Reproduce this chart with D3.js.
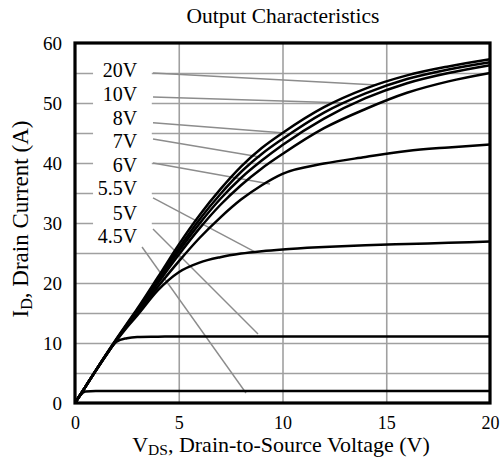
<!DOCTYPE html>
<html>
<head>
<meta charset="utf-8">
<script src="https://cdn.jsdelivr.net/npm/d3@7"></script>
<style>
  body { margin: 0; background: #fff; }
  svg text { font-family: "Liberation Serif", "DejaVu Serif", serif; fill: #000; }
</style>
</head>
<body>
<div id="chart"></div>
<script>
// Output characteristics (ID vs VDS) for several gate voltages
var svgWidth = 500;
var svgHeight = 457;

var margin = { top: 43, right: 10, bottom: 54, left: 75 };
var width = svgWidth - margin.left - margin.right;
var height = svgHeight - margin.top - margin.bottom;

// Data
var xTicks = [0, 5, 10, 15, 20];
var yTicks = [0, 10, 20, 30, 40, 50, 60];
var yGrid = [5, 10, 15, 20, 25, 30, 35, 40, 45, 50, 55];
var xGrid = [5, 10, 15];

var vds = [0, 0.5, 1, 1.5, 2, 2.5, 3, 4, 5, 6, 7, 8, 9, 10, 12, 14, 16, 18, 20];
var id20 = [0, 2.7, 5.4, 8.1, 10.7, 13.2, 15.7, 21.0, 26.4, 31.3, 35.6, 39.4, 42.5, 45.0, 49.3, 52.4, 54.6, 56.1, 57.3];
var id10 = [0, 2.7, 5.4, 8.1, 10.6, 13.1, 15.5, 20.7, 25.8, 30.6, 34.8, 38.5, 41.5, 44.0, 48.4, 51.6, 54.0, 55.6, 56.8];
var id8 = [0, 2.7, 5.4, 8.0, 10.6, 13.0, 15.4, 20.4, 25.3, 29.9, 34.0, 37.5, 40.4, 43.0, 47.4, 50.8, 53.3, 55.0, 56.3];
var id7 = [0, 2.7, 5.4, 8.0, 10.5, 12.9, 15.2, 20.0, 24.7, 29.1, 33.0, 36.3, 39.1, 41.5, 45.8, 49.0, 51.7, 53.6, 55.0];
var id6 = [0, 2.7, 5.4, 8.0, 10.5, 12.8, 15.0, 19.4, 23.6, 27.5, 30.9, 33.9, 36.3, 38.2, 39.9, 41.0, 42.0, 42.6, 43.1];
var id55 = [0, 2.7, 5.4, 8.0, 10.4, 12.6, 14.6, 18.8, 21.8, 23.4, 24.3, 24.9, 25.3, 25.6, 26.0, 26.3, 26.5, 26.7, 26.9];
var id5 = [0, 2.7, 5.4, 8.0, 10.2, 10.8, 11.0, 11.05, 11.1, 11.1, 11.1, 11.1, 11.1, 11.1, 11.1, 11.1, 11.1, 11.1, 11.1];
var id45 = [0, 1.9, 2.0, 2.0, 2.0, 2.0, 2.0, 2.0, 2.0, 2.0, 2.0, 2.0, 2.0, 2.0, 2.0, 2.0, 2.0, 2.0, 2.0];

var seriesNames = ["20V", "10V", "8V", "7V", "6V", "5.5V", "5V", "4.5V"];
var seriesValues = [id20, id10, id8, id7, id6, id55, id5, id45];

// label leader lines: [vds, id] start and end, in data units
var leaderStart = [[3.76, 55.0], [3.76, 51.0], [3.76, 46.7], [3.76, 44.0], [3.76, 40.0], [3.76, 34.2], [3.76, 29.0], [3.23, 26.0]];
var leaderEnd = [[14.55, 53.0], [13.1, 50.0], [10.1, 45.0], [8.92, 41.0], [9.4, 36.5], [8.67, 25.2], [8.82, 11.5], [8.24, 1.67]];
// label text anchor (end) and baseline, in data units
var labelPos = [[3.0, 54.4], [3.0, 50.4], [3.0, 46.3], [3.0, 42.5], [3.0, 38.5], [3.0, 34.6], [3.0, 30.5], [3.0, 26.6]];

var svg = d3.select("#chart")
  .append("svg")
  .attr("width", svgWidth)
  .attr("height", svgHeight);

var chartGroup = svg.append("g")
  .attr("transform", `translate(${margin.left}, ${margin.top})`);

var xLinearScale = d3.scaleLinear().domain([0, 20]).range([0, width]);
var yLinearScale = d3.scaleLinear().domain([0, 60]).range([height, 0]);

// grid
chartGroup.append("g")
  .attr("class", "grid")
  .call(d3.axisLeft(yLinearScale).tickValues(yGrid).tickSize(-width).tickFormat(""))
  .call(g => g.select(".domain").remove())
  .selectAll("line")
  .attr("stroke", "#a0a0a0")
  .attr("stroke-width", 1.6);

chartGroup.append("g")
  .attr("class", "grid")
  .attr("transform", `translate(0, ${height})`)
  .call(d3.axisBottom(xLinearScale).tickValues(xGrid).tickSize(-height).tickFormat(""))
  .call(g => g.select(".domain").remove())
  .selectAll("line")
  .attr("stroke", "#a0a0a0")
  .attr("stroke-width", 1.6);

// white box behind the labels (breaks the grid lines)
chartGroup.append("rect")
  .attr("x", xLinearScale(0.87))
  .attr("y", yLinearScale(56.5))
  .attr("width", xLinearScale(3.7) - xLinearScale(0.87))
  .attr("height", yLinearScale(26.5) - yLinearScale(56.5))
  .attr("fill", "#fff");

// leader lines
chartGroup.selectAll(".leader")
  .data(seriesNames)
  .enter()
  .append("line")
  .attr("class", "leader")
  .attr("x1", (d, i) => xLinearScale(leaderStart[i][0]))
  .attr("y1", (d, i) => yLinearScale(leaderStart[i][1]))
  .attr("x2", (d, i) => xLinearScale(leaderEnd[i][0]))
  .attr("y2", (d, i) => yLinearScale(leaderEnd[i][1]))
  .attr("stroke", "#8c8c8c")
  .attr("stroke-width", 1.4);

// curves
var line = d3.line()
  .x((d, i) => xLinearScale(vds[i]))
  .y(d => yLinearScale(d))
  .curve(d3.curveMonotoneX);

chartGroup.selectAll(".curve")
  .data(seriesValues)
  .enter()
  .append("path")
  .attr("class", "curve")
  .attr("d", d => line(d))
  .attr("fill", "none")
  .attr("stroke", "#000")
  .attr("stroke-width", 2.5);

// labels
chartGroup.selectAll(".vgs")
  .data(seriesNames)
  .enter()
  .append("text")
  .attr("class", "vgs")
  .attr("x", (d, i) => xLinearScale(labelPos[i][0]))
  .attr("y", (d, i) => yLinearScale(labelPos[i][1]))
  .attr("text-anchor", "end")
  .attr("font-size", 20)
  .text(d => d);

// frame
chartGroup.append("rect")
  .attr("width", width)
  .attr("height", height)
  .attr("fill", "none")
  .attr("stroke", "#000")
  .attr("stroke-width", 3.2);

// tick labels
var leftAxis = d3.axisLeft(yLinearScale).tickValues(yTicks).tickSize(0).tickPadding(13);
var bottomAxis = d3.axisBottom(xLinearScale).tickValues(xTicks).tickSize(0).tickPadding(13);

chartGroup.append("g")
  .call(leftAxis)
  .call(g => g.select(".domain").remove())
  .selectAll("text")
  .attr("font-size", 19);

chartGroup.append("g")
  .attr("transform", `translate(0, ${height})`)
  .call(bottomAxis)
  .call(g => g.select(".domain").remove())
  .selectAll("text")
  .attr("font-size", 18);

// titles
svg.append("text")
  .attr("x", 283)
  .attr("y", 23)
  .attr("text-anchor", "middle")
  .attr("font-size", 21.5)
  .text("Output Characteristics");

var xTitle = svg.append("text")
  .attr("x", 281)
  .attr("y", 452)
  .attr("text-anchor", "middle")
  .attr("font-size", 22);
xTitle.append("tspan").text("V");
xTitle.append("tspan").attr("font-size", 15.5).attr("dy", 3).text("DS");
xTitle.append("tspan").attr("dy", -3).text(", Drain-to-Source Voltage (V)");

var yTitle = svg.append("text")
  .attr("transform", "translate(28, 219) rotate(-90)")
  .attr("text-anchor", "middle")
  .attr("font-size", 23);
yTitle.append("tspan").text("I");
yTitle.append("tspan").attr("font-size", 16).attr("dy", 4).text("D");
yTitle.append("tspan").attr("dy", -4).text(", Drain Current (A)");
</script>
</body>
</html>
